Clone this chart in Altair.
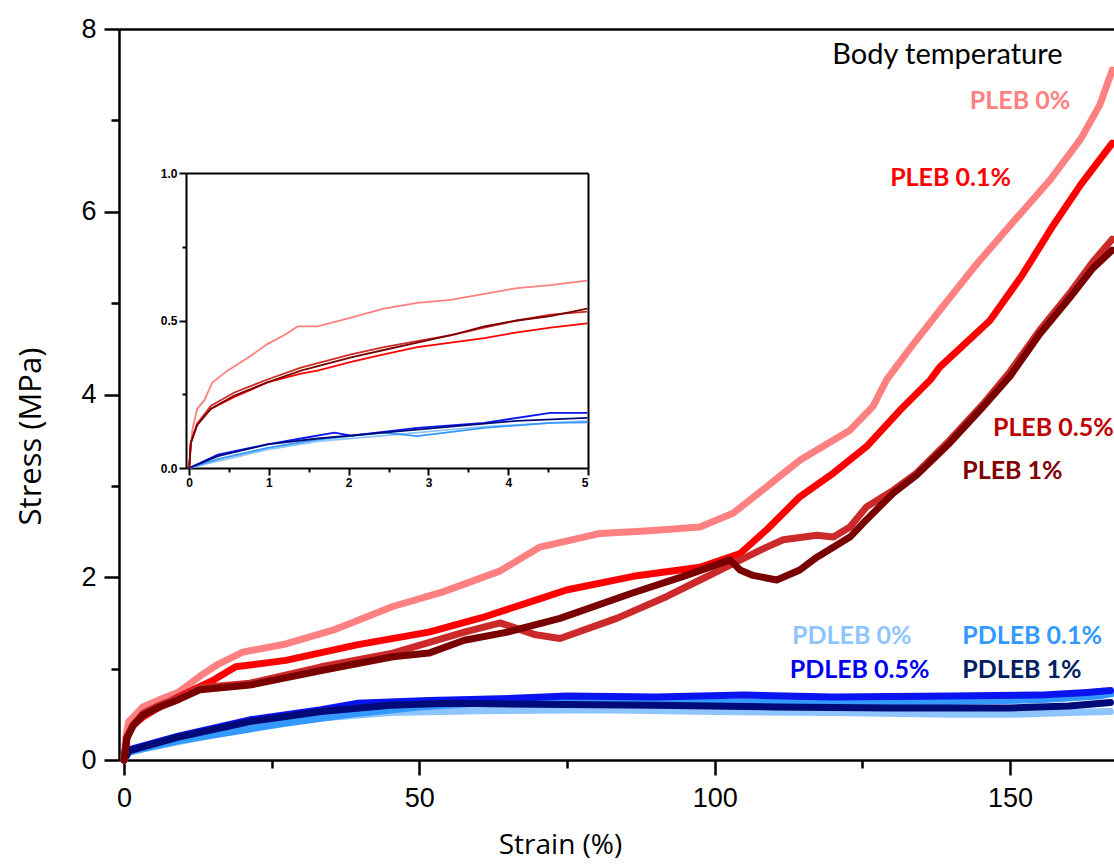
import altair as alt
import pandas as pd

# ---------------- data ----------------
series_names = ["PDLEB 0%", "PDLEB 0.1%", "PDLEB 0.5%", "PDLEB 1%",
                "PLEB 0%", "PLEB 0.1%", "PLEB 0.5%", "PLEB 1%"]
series_colors = ["#8EC5FF", "#3399FF", "#0A14F0", "#000A78",
                 "#FF8080", "#FF0000", "#CC2A2A", "#7A0000"]

# main plot: strain (%) and stress (MPa)
pleb0_x = [0, 0.3, 0.8, 2, 3.2, 6, 9.2, 12.9, 16, 20.1, 27.4, 35.8, 45.5, 54, 63.7, 70.4, 80.6, 89, 97.5,
           103.1, 108.8, 114.4, 122.9, 126.8, 129.1, 133, 138.1, 144, 150, 156.8, 162, 165.2, 167.3]
pleb0_y = [0, 0.25, 0.42, 0.5, 0.58, 0.66, 0.74, 0.92, 1.05, 1.18, 1.27, 1.43, 1.68, 1.84, 2.07, 2.33, 2.48, 2.51, 2.55,
           2.70, 2.99, 3.28, 3.61, 3.87, 4.16, 4.5, 4.92, 5.4, 5.85, 6.35, 6.8, 7.17, 7.55]
pleb01_x = [0, 0.5, 1.5, 3.2, 6, 9.2, 15.3, 18.9, 27.4, 39.4, 51.6, 61.2, 69.7, 74.9, 86.2, 97.5, 104.3,
            108.8, 114.4, 120.1, 125.7, 131.4, 136.5, 138.1, 146.6, 152, 157.3, 162, 167.3]
pleb01_y = [0, 0.25, 0.38, 0.47, 0.58, 0.69, 0.88, 1.02, 1.09, 1.26, 1.40, 1.57, 1.75, 1.86, 2.01, 2.11, 2.26,
            2.52, 2.88, 3.14, 3.43, 3.83, 4.16, 4.30, 4.81, 5.3, 5.85, 6.3, 6.75]
pleb05_x = [0, 0.5, 1.5, 3.2, 6, 9.2, 12.9, 21.3, 33.4, 45.5, 57.6, 63.7, 69.7, 73.8, 83.4, 91.9, 97.5, 103.1,
            108.8, 111.6, 117.3, 120.1, 122.9, 125.7, 130.2, 134.2, 139.8, 145.5, 150, 155, 160, 164, 167.3]
pleb05_y = [0, 0.25, 0.38, 0.51, 0.6, 0.68, 0.79, 0.84, 1.02, 1.17, 1.40, 1.50, 1.37, 1.33, 1.55, 1.79, 1.97, 2.15,
            2.33, 2.41, 2.46, 2.44, 2.55, 2.77, 2.95, 3.14, 3.50, 3.90, 4.25, 4.70, 5.1, 5.45, 5.70]
pleb1_x = [0, 0.5, 1.5, 3.2, 6, 9.2, 12.9, 21.3, 33.4, 45.5, 51.6, 57.6, 64.9, 73.8, 86.2, 94.7, 102.6, 104.3,
           106.5, 110.5, 114.4, 117.3, 122.9, 125.7, 130.2, 134.2, 139.8, 145.5, 150, 155, 160, 164, 167.3]
pleb1_y = [0, 0.24, 0.37, 0.49, 0.58, 0.66, 0.77, 0.82, 0.98, 1.13, 1.17, 1.31, 1.40, 1.55, 1.83, 2.01, 2.19, 2.08,
           2.02, 1.97, 2.08, 2.22, 2.44, 2.63, 2.92, 3.12, 3.47, 3.87, 4.2, 4.66, 5.05, 5.38, 5.58]
pdleb0_x = [0, 0.8, 3, 9.2, 21.3, 33.4, 45, 60, 80, 100, 120, 140, 150, 160, 167]
pdleb0_y = [0, 0.08, 0.12, 0.2, 0.36, 0.46, 0.52, 0.54, 0.55, 0.53, 0.52, 0.50, 0.50, 0.52, 0.53]
pdleb01_x = [0, 0.8, 9.2, 21.3, 27, 39.4, 50, 60, 80, 100, 120, 140, 155, 165, 167.5]
pdleb01_y = [0, 0.09, 0.21, 0.34, 0.40, 0.51, 0.58, 0.62, 0.64, 0.63, 0.64, 0.64, 0.66, 0.70, 0.73]
pdleb05_x = [0, 0.8, 9.2, 21.3, 33.4, 39.4, 51.6, 63.7, 75, 90, 105, 120, 140, 155, 163, 167]
pdleb05_y = [0, 0.11, 0.26, 0.44, 0.55, 0.62, 0.65, 0.67, 0.70, 0.69, 0.71, 0.69, 0.70, 0.71, 0.74, 0.76]
pdleb1_x = [0, 0.8, 9.2, 21.3, 33.4, 45, 55, 70, 90, 110, 130, 150, 160, 167]
pdleb1_y = [0, 0.10, 0.25, 0.42, 0.53, 0.60, 0.62, 0.61, 0.60, 0.58, 0.57, 0.57, 0.59, 0.63]

# inset: first 5 % of strain
in_pleb0_x = [0, 0.02, 0.04, 0.10, 0.19, 0.29, 0.48, 0.77, 0.98, 1.19, 1.36, 1.61, 2.03, 2.44, 2.86, 3.28, 3.70, 4.11, 4.53, 4.99]
in_pleb0_y = [0, 0.07, 0.13, 0.20, 0.23, 0.29, 0.33, 0.38, 0.42, 0.45, 0.48, 0.48, 0.51, 0.54, 0.56, 0.57, 0.59, 0.61, 0.62, 0.635]
in_pleb01_x = [0, 0.02, 0.10, 0.27, 0.56, 0.98, 1.40, 1.61, 2.03, 2.44, 2.86, 3.28, 3.70, 4.11, 4.53, 4.99]
in_pleb01_y = [0, 0.085, 0.15, 0.20, 0.24, 0.29, 0.32, 0.33, 0.36, 0.385, 0.41, 0.425, 0.44, 0.46, 0.476, 0.49]
in_pleb05_x = [0, 0.02, 0.10, 0.27, 0.56, 0.98, 1.40, 2.03, 2.44, 2.86, 3.28, 3.70, 4.11, 4.53, 4.99]
in_pleb05_y = [0, 0.085, 0.15, 0.21, 0.255, 0.30, 0.34, 0.385, 0.41, 0.43, 0.45, 0.476, 0.50, 0.52, 0.53]
in_pleb1_x = [0, 0.02, 0.10, 0.27, 0.56, 0.98, 1.40, 2.03, 2.44, 2.86, 3.28, 3.70, 4.11, 4.53, 4.99]
in_pleb1_y = [0, 0.085, 0.145, 0.20, 0.245, 0.29, 0.33, 0.375, 0.40, 0.425, 0.45, 0.48, 0.50, 0.515, 0.54]
in_pdleb0_x = [0, 0.36, 0.98, 1.61, 2.44, 3.70, 4.99]
in_pdleb0_y = [0, 0.023, 0.062, 0.09, 0.11, 0.14, 0.16]
in_pdleb01_x = [0, 0.36, 0.98, 1.61, 2.44, 2.86, 3.70, 4.53, 4.99]
in_pdleb01_y = [0, 0.03, 0.068, 0.096, 0.12, 0.108, 0.136, 0.153, 0.155]
in_pdleb05_x = [0, 0.36, 0.98, 1.40, 1.82, 2.03, 2.86, 3.70, 4.53, 4.99]
in_pdleb05_y = [0, 0.045, 0.08, 0.10, 0.12, 0.11, 0.136, 0.153, 0.187, 0.187]
in_pdleb1_x = [0, 0.36, 0.98, 1.61, 2.44, 3.28, 4.11, 4.99]
in_pdleb1_y = [0, 0.04, 0.08, 0.10, 0.12, 0.14, 0.16, 0.17]

label_text = ["PLEB 0%", "PLEB 0.1%", "PLEB 0.5%", "PLEB 1%",
              "PDLEB 0%", "PDLEB 0.1%", "PDLEB 0.5%", "PDLEB 1%"]
label_x = [143.2, 129.7, 147.1, 141.9, 113.1, 141.9, 112.7, 141.9]
label_y = [7.21, 6.37, 3.63, 3.16, 1.36, 1.36, 0.985, 0.985]
label_color = ["#FF8080", "#FF0000", "#C00000", "#7F0000",
               "#8EC5FF", "#3399FF", "#0000F0", "#002060"]
note_text = ["Body temperature"]
note_x = [119.9]
note_y = [7.72]

main_ticks_x = [0, 50, 100, 150]
main_minor_x = [25, 75, 125]
main_ticks_y = [0, 2, 4, 6, 8]
main_minor_y = [1, 3, 5, 7]
inset_ticks_x = [0, 1, 2, 3, 4, 5]
inset_minor_x = [0.5, 1.5, 2.5, 3.5, 4.5]
inset_ticks_y = [0.0, 0.5, 1.0]
inset_minor_y = [0.25, 0.75]

# ---------------- tables ----------------
def build(pairs):
    rows = []
    for name, xs, ys in pairs:
        for i, (a, b) in enumerate(zip(xs, ys)):
            rows.append({"series": name, "x": a, "y": b, "i": i})
    return pd.DataFrame(rows)

main_df = build([
    ("PDLEB 0%", pdleb0_x, pdleb0_y), ("PDLEB 0.1%", pdleb01_x, pdleb01_y),
    ("PDLEB 0.5%", pdleb05_x, pdleb05_y), ("PDLEB 1%", pdleb1_x, pdleb1_y),
    ("PLEB 0%", pleb0_x, pleb0_y), ("PLEB 0.1%", pleb01_x, pleb01_y),
    ("PLEB 0.5%", pleb05_x, pleb05_y), ("PLEB 1%", pleb1_x, pleb1_y),
])
inset_df = build([
    ("PDLEB 0%", in_pdleb0_x, in_pdleb0_y), ("PDLEB 0.1%", in_pdleb01_x, in_pdleb01_y),
    ("PDLEB 0.5%", in_pdleb05_x, in_pdleb05_y), ("PDLEB 1%", in_pdleb1_x, in_pdleb1_y),
    ("PLEB 0%", in_pleb0_x, in_pleb0_y), ("PLEB 0.1%", in_pleb01_x, in_pleb01_y),
    ("PLEB 0.5%", in_pleb05_x, in_pleb05_y), ("PLEB 1%", in_pleb1_x, in_pleb1_y),
])
labels_df = pd.DataFrame({"x": label_x, "y": label_y, "t": label_text, "c": label_color})
note_df = pd.DataFrame({"x": note_x, "y": note_y, "t": note_text})

# ---------------- geometry ----------------
W, H = 995, 731
SX = alt.Scale(domain=[-0.85, 167.6], nice=False, zero=False)
SY = alt.Scale(domain=[0, 8], nice=False, zero=False)
IX = alt.Scale(domain=[-0.04, 5.0], range=[67, 469], nice=False, zero=False)
IY = alt.Scale(domain=[0, 1], range=[439, 144], nice=False, zero=False)
CS = alt.Scale(domain=series_names, range=series_colors)

AX = dict(grid=False, domainColor="black", tickColor="black", labelColor="black",
          titleColor="black", labelFont="Liberation Sans")

x_major = alt.Axis(orient="bottom", values=main_ticks_x, tickSize=15, tickWidth=2.5, domainWidth=2.5,
                   labelFontSize=27, labelPadding=10, format="d",
                   title="Strain (%)", titleFont="Open Sans", titleFontSize=28, titleFontWeight="normal",
                   titleX=441, titleY=85, titleBaseline="middle", titleAlign="center", **AX)
y_major = alt.Axis(orient="left", values=main_ticks_y, tickSize=15, tickWidth=2.5, domainWidth=2.5,
                   labelFontSize=27, labelPadding=8, format="d",
                   title="Stress (MPa)", titleFont="Open Sans", titleFontSize=31, titleFontWeight="normal",
                   titleX=-88, titleY=407, titleAngle=270, titleBaseline="middle", titleAlign="center", **AX)
x_minor = alt.Axis(orient="bottom", values=main_minor_x, tickSize=8, tickWidth=2.5, labels=False,
                   domain=False, title="", **AX)
y_minor = alt.Axis(orient="left", values=main_minor_y, tickSize=8, tickWidth=2.5, labels=False,
                   domain=False, title="", **AX)
x_top = alt.Axis(orient="top", ticks=False, labels=False, domainWidth=2.5, title="", **AX)

ix_major = alt.Axis(orient="bottom", values=inset_ticks_x, tickSize=7, tickWidth=2, domainWidth=2, offset=-292,
                    labelFontSize=12, labelFontWeight="bold", labelPadding=2, format="d", title="", **AX)
iy_major = alt.Axis(orient="left", values=inset_ticks_y, tickSize=7, tickWidth=2, domainWidth=2, offset=-67,
                    labelFontSize=12, labelFontWeight="bold", labelPadding=2, format=".1f", title="", **AX)
ix_minor = alt.Axis(orient="bottom", values=inset_minor_x, tickSize=4, tickWidth=2, domain=False, labels=False,
                    offset=-292, title="", **AX)
iy_minor = alt.Axis(orient="left", values=inset_minor_y, tickSize=4, tickWidth=2, domain=False, labels=False,
                    offset=-67, title="", **AX)
ix_top = alt.Axis(orient="top", ticks=False, labels=False, domainWidth=2, offset=-144, title="", **AX)
iy_right = alt.Axis(orient="right", ticks=False, labels=False, domainWidth=2, offset=-526, title="", **AX)

main_lines = alt.Chart(main_df).mark_line(strokeWidth=7, strokeJoin="round", strokeCap="round").encode(
    x=alt.X("x:Q", scale=SX, axis=x_major),
    y=alt.Y("y:Q", scale=SY, axis=y_major),
    color=alt.Color("series:N", scale=CS, legend=None),
    order="i:Q",
)
labels = alt.Chart(labels_df).mark_text(align="left", baseline="middle", font="Lato",
                                         fontWeight="bold", fontSize=25).encode(
    x=alt.X("x:Q", scale=SX, axis=x_minor),
    y=alt.Y("y:Q", scale=SY, axis=y_minor),
    text="t:N",
    color=alt.Color("c:N", scale=None),
)
note = alt.Chart(note_df).mark_text(align="left", baseline="middle", font="Lato",
                                     fontSize=29, color="black").encode(
    x=alt.X("x:Q", scale=SX, axis=x_top),
    y=alt.Y("y:Q", scale=SY, axis=None),
    text="t:N",
)
inset_lines = alt.Chart(inset_df).mark_line(strokeWidth=1.8).encode(
    x=alt.X("x:Q", scale=IX, axis=ix_major),
    y=alt.Y("y:Q", scale=IY, axis=iy_major),
    color=alt.Color("series:N", scale=CS, legend=None),
    order="i:Q",
)
inset_minor = alt.Chart(inset_df).mark_line(opacity=0).encode(
    x=alt.X("x:Q", scale=IX, axis=ix_minor),
    y=alt.Y("y:Q", scale=IY, axis=iy_minor),
    detail="series:N",
)
inset_frame = alt.Chart(inset_df).mark_line(opacity=0).encode(
    x=alt.X("x:Q", scale=IX, axis=ix_top),
    y=alt.Y("y:Q", scale=IY, axis=iy_right),
    detail="series:N",
)

chart = alt.layer(main_lines, labels, note, inset_lines, inset_minor, inset_frame).resolve_scale(
    x="independent", y="independent", color="independent"
).resolve_axis(
    x="independent", y="independent"
).properties(
    width=W, height=H,
    autosize=alt.AutoSizeParams(type="none"),
    padding={"left": 119, "top": 29, "right": 0, "bottom": 104},
).configure_view(stroke=None).configure(background="white")

chart.save("out.html", embed_options={"renderer": "svg", "actions": False})
